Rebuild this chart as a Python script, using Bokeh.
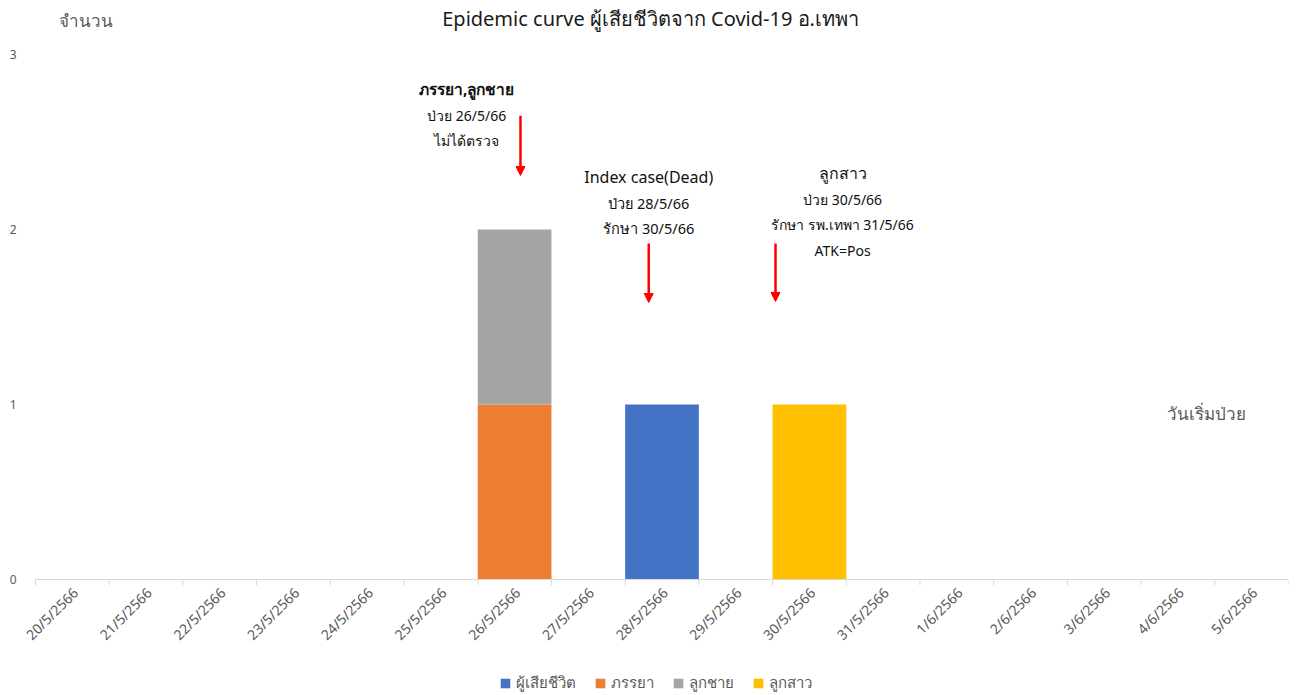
import numpy as np
from bokeh.plotting import figure
from bokeh.models import (ColumnDataSource, Range1d, FixedTicker, Legend, LegendItem,
                          Arrow, NormalHead)
from bokeh.core.properties import value
from bokeh.embed import file_html
from bokeh.resources import INLINE

# ---------------- data ----------------
dates = ["20/5/2566", "21/5/2566", "22/5/2566", "23/5/2566", "24/5/2566", "25/5/2566",
         "26/5/2566", "27/5/2566", "28/5/2566", "29/5/2566", "30/5/2566", "31/5/2566",
         "1/6/2566", "2/6/2566", "3/6/2566", "4/6/2566", "5/6/2566"]
series = ["ผู้เสียชีวิต", "ภรรยา", "ลูกชาย", "ลูกสาว"]
deceased = [0, 0, 0, 0, 0, 0, 0, 0, 1, 0, 0, 0, 0, 0, 0, 0, 0]
wife     = [0, 0, 0, 0, 0, 0, 1, 0, 0, 0, 0, 0, 0, 0, 0, 0, 0]
son      = [0, 0, 0, 0, 0, 0, 1, 0, 0, 0, 0, 0, 0, 0, 0, 0, 0]
daughter = [0, 0, 0, 0, 0, 0, 0, 0, 0, 0, 1, 0, 0, 0, 0, 0, 0]
y_ticks = [0, 1, 2, 3]

title_text = "Epidemic curve ผู้เสียชีวิตจาก Covid-19 อ.เทพา"
y_title = "จำนวน"
x_title = "วันเริ่มป่วย"

# annotation texts (positions / styles kept separately below)
note_texts = ["ภรรยา,ลูกชาย", "ป่วย 26/5/66", "ไม่ได้ตรวจ",
              "Index case(Dead)", "ป่วย 28/5/66", "รักษา 30/5/66",
              "ลูกสาว", "ป่วย 30/5/66", "รักษา รพ.เทพา 31/5/66", "ATK=Pos"]

# ---------------- styles / layout ----------------
colors = ["#4472C4", "#ED7D31", "#A5A5A5", "#FFC000"]
FONT = "Noto Sans"
GREY = "#595959"
AXIS_GREY = "#D9D9D9"

n = len(dates)
x_centers = np.arange(n) + 0.5
x_bounds = np.arange(n + 1)
source = ColumnDataSource(dict(x=x_centers, **{s: v for s, v in
                               zip(series, [deceased, wife, son, daughter])}))

# frame spans the whole canvas; value 0 sits 116 px above the bottom edge,
# the first category starts 17 px right of the frame's left edge
p = figure(width=1300, height=695, output_backend="svg", toolbar_location=None,
           x_range=Range1d(-0.2306, n), y_range=Range1d(-0.663, 3.309),
           x_axis_location=None,
           min_border_left=18, min_border_right=12, min_border_top=0,
           min_border_bottom=0)
p.outline_line_color = None
p.grid.visible = False

renderers = p.vbar_stack(series, x="x", width=1.0, source=source,
                         fill_color=colors, line_color=None)

# category axis: base line, boundary tick marks and rotated date labels
p.segment(x0=[0], y0=[0], x1=[n], y1=[0], line_color=AXIS_GREY, line_width=1)
p.segment(x0=x_bounds, y0=np.zeros(n + 1), x1=x_bounds, y1=np.full(n + 1, -0.034),
          line_color=AXIS_GREY, line_width=1)
p.text(x=x_centers, y=np.full(n, -0.06), text=dates, angle=np.pi / 4,
       x_offset=3, text_align="right", text_baseline="middle",
       text_font=value(FONT), text_font_size="14px", text_color=GREY)

# y axis
p.yaxis.ticker = FixedTicker(ticks=y_ticks, minor_ticks=[])
p.yaxis.axis_line_color = None
p.yaxis.major_tick_line_color = None
p.yaxis.major_tick_out = 0
p.yaxis.major_tick_in = 0
p.yaxis.minor_tick_line_color = None
p.yaxis.major_label_text_color = GREY
p.yaxis.major_label_text_font = FONT
p.yaxis.major_label_text_font_size = "12px"
p.yaxis.major_label_standoff = 2

# title & axis titles (in data space of the frame)
p.text(x=[8.345], y=[3.206], text=[title_text], text_align="center",
       text_baseline="middle", text_font=value(FONT), text_font_size="20px",
       text_color="#1a1a1a")
p.text(x=[0.68], y=[3.194], text=[y_title], text_align="center",
       text_baseline="middle", text_font=value(FONT), text_font_size="17px",
       text_color=GREY)
p.text(x=[15.89], y=[0.949], text=[x_title], text_align="center",
       text_baseline="middle", text_font=value(FONT), text_font_size="17px",
       text_color=GREY)

# annotation positions
note_x = [5.85, 5.85, 5.85, 8.32, 8.32, 8.32, 10.95, 10.95, 10.95, 10.95]
note_y = [2.806, 2.651, 2.509, 2.303, 2.154, 2.011, 2.326, 2.171, 2.029, 1.880]
note_size = ["15.5px", "14px", "14px", "16px", "14.5px", "14.5px",
             "16px", "14px", "14px", "14px"]
note_style = ["bold", "normal", "normal", "normal", "normal", "normal",
              "normal", "normal", "normal", "normal"]
p.text(x=note_x, y=note_y, text=note_texts, text_align="center",
       text_baseline="middle", text_font=value(FONT), text_font_size=note_size,
       text_font_style=note_style, text_color="#111111")

# arrows
arrow_x = [6.58, 8.32, 10.04]
arrow_y0 = [2.651, 1.920, 1.920]
arrow_y1 = [2.309, 1.583, 1.589]
for ax, y0, y1 in zip(arrow_x, arrow_y0, arrow_y1):
    p.add_layout(Arrow(x_start=ax, y_start=y0, x_end=ax, y_end=y1,
                       line_color="#FF0000", line_width=2.5,
                       end=NormalHead(size=9, fill_color="#FF0000",
                                      line_color="#FF0000")))

legend = Legend(items=[LegendItem(label=s, renderers=[r]) for s, r in zip(series, renderers)],
                orientation="horizontal", location=(481, 0),
                label_text_font=FONT, label_text_font_size="15px",
                label_text_color=GREY, glyph_width=12, glyph_height=12,
                spacing=18, padding=0, margin=0, border_line_color=None,
                background_fill_alpha=0, label_standoff=5)
p.add_layout(legend, "center")

open("out.html", "w").write(file_html(p, INLINE))
